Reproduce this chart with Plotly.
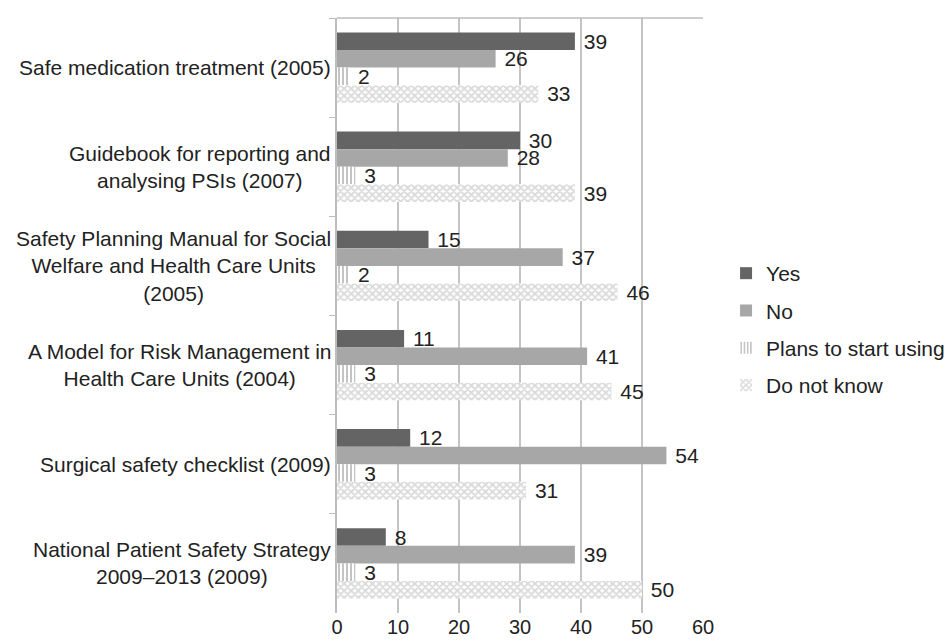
import plotly.graph_objects as go

categories = [
    "Safe medication treatment (2005)",
    "Guidebook for reporting and<br>analysing PSIs (2007)",
    "Safety Planning Manual for Social<br>Welfare and Health Care Units<br>(2005)",
    "A Model for Risk Management in<br>Health Care Units (2004)",
    "Surgical safety checklist (2009)",
    "National Patient Safety Strategy<br>2009–2013 (2009)",
]
yes_vals = [39, 30, 15, 11, 12, 8]
no_vals = [26, 28, 37, 41, 54, 39]
plans_vals = [2, 3, 2, 3, 3, 3]
dnk_vals = [33, 39, 46, 45, 31, 50]
series_names = ["Yes", "No", "Plans to start using", "Do not know"]
x_ticks = [0, 10, 20, 30, 40, 50, 60]

FONT = "Liberation Sans, Arial, sans-serif"
FS = 21

fig = go.Figure()
styles = [
    dict(color="#646464"),
    dict(color="#a7a7a7"),
    dict(color="white", pattern=dict(shape="|", fgcolor="#6a6a6a", bgcolor="white", size=4, solidity=0.4)),
    dict(color="white", pattern=dict(shape="x", fgcolor="#b5b5b5", bgcolor="white", size=5, solidity=0.6)),
]
for name, vals, st in zip(series_names, [yes_vals, no_vals, plans_vals, dnk_vals], styles):
    fig.add_trace(go.Bar(
        y=categories, x=vals, name=name, orientation="h",
        marker=dict(line=dict(width=0), **st),
        text=vals, texttemplate=" %{x}", textposition="outside",
        constraintext="none",
        textfont=dict(size=FS, color="#222", family=FONT),
        cliponaxis=False, legendgroup=name,
    ))

for c in categories:
    fig.add_annotation(
        x=0, xref="paper", y=c, yref="y", text=c, showarrow=False,
        xanchor="right", align="center", xshift=-4,
        font=dict(size=FS, color="#222", family=FONT),
    )

fig.add_shape(type="line", xref="x", yref="paper", x0=0, x1=60, y0=1, y1=1,
              line=dict(color="#bdbdbd", width=1.5))

fig.update_layout(
    width=949, height=641,
    margin=dict(l=337, r=246, t=18, b=28, autoexpand=False),
    paper_bgcolor="white", plot_bgcolor="white",
    barmode="group", bargap=0.29, bargroupgap=0,
    font=dict(family=FONT, size=FS, color="#222"),
    showlegend=True,
    legend=dict(
        x=1.063, xanchor="left", y=0.605, yanchor="top",
        traceorder="grouped", tracegroupgap=7,
        font=dict(size=FS, family=FONT, color="#222"),
        itemwidth=30, bgcolor="rgba(0,0,0,0)",
    ),
    xaxis=dict(
        range=[0, 60], tickvals=x_ticks, showgrid=True, gridcolor="#c4c4c4", gridwidth=1.5,
        zeroline=False, showline=False, ticks="", automargin=False,
        tickfont=dict(size=20, family=FONT, color="#222"),
    ),
    yaxis=dict(
        autorange="reversed", showticklabels=False, showgrid=False, automargin=False,
        showline=True, linecolor="#bdbdbd", linewidth=1.5,
        ticks="outside", tickson="boundaries", ticklen=6, tickcolor="#bdbdbd",
    ),
)

fig.write_html("out.html")
